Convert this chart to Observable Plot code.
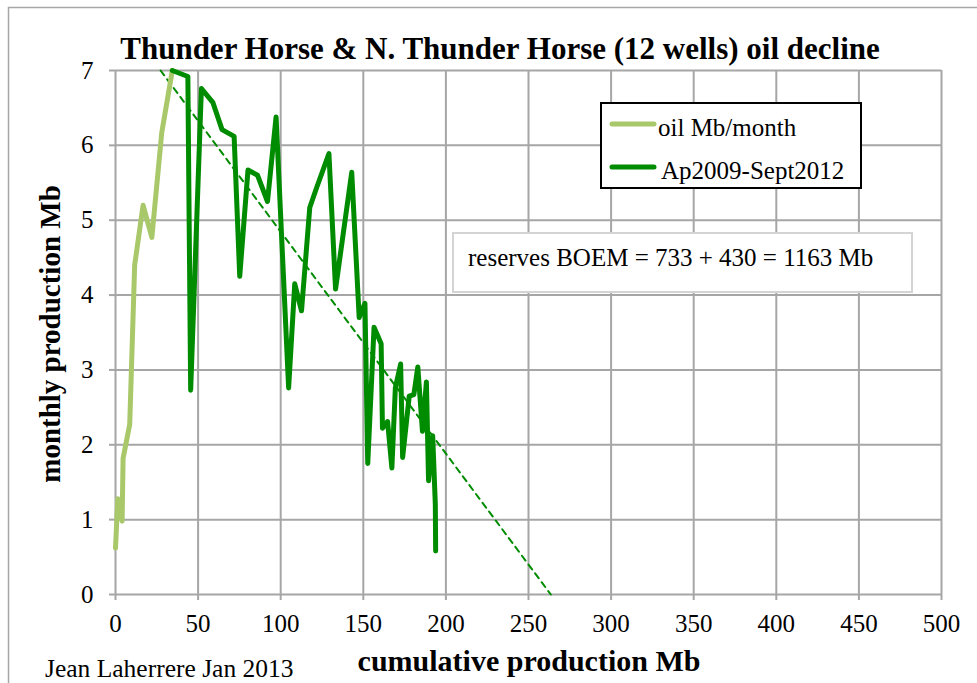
<!DOCTYPE html>
<html>
<head>
<meta charset="utf-8">
<script src="https://cdn.jsdelivr.net/npm/d3@7"></script>
<script src="https://cdn.jsdelivr.net/npm/@observablehq/plot@0.6"></script>
<style>
  body { margin: 0; background: #fff; }
  #wrap { position: relative; width: 977px; height: 683px; overflow: hidden; font-family: "Liberation Serif", "Times New Roman", serif; }
  #chart { position: absolute; left: 0; top: 0; }
  svg.overlay { position: absolute; left: 0; top: 0; pointer-events: none; }
</style>
</head>
<body>
<div id="wrap"><div id="chart"></div></div>
<script>
// ---- texts ----
const titleText = "Thunder Horse & N. Thunder Horse (12 wells) oil decline";
const xLabel = "cumulative production Mb";
const yLabel = "monthly production Mb";
const credit = "Jean Laherrere Jan 2013";
const annotation = "reserves BOEM = 733 + 430 = 1163 Mb";
const seriesNames = ["oil Mb/month", "Ap2009-Sept2012"];
const seriesColors = ["#a8c86a", "#008c00"];

// ---- ticks ----
const xTicks = [0, 50, 100, 150, 200, 250, 300, 350, 400, 450, 500];
const yTicks = [0, 1, 2, 3, 4, 5, 6, 7];

// ---- early production (light green) ----
const earlyCum  = [0, 1.4, 4.0, 4.6, 8.6, 11.6, 16.7, 22.0, 28.0, 34.4];
const earlyProd = [0.62, 1.28, 0.98, 1.82, 2.27, 4.40, 5.20, 4.77, 6.17, 7.00];

// ---- Ap2009-Sept2012 (dark green) ----
const lateCum  = [34.4, 43.8, 45.5, 52.0, 59.0, 64.5, 71.8, 75.2, 80.2, 86.0, 92.0, 97.2,
                  104.8, 108.5, 112.6, 117.6, 122.0, 129.2, 133.2, 143.0, 147.5, 151.0,
                  152.7, 156.5, 160.8, 161.6, 164.7, 167.3, 169.4, 172.6, 173.8, 177.8,
                  180.6, 183.0, 185.8, 188.2, 189.5, 192.0, 193.6, 193.8];
const lateProd = [7.00, 6.92, 2.73, 6.76, 6.57, 6.21, 6.12, 4.25, 5.67, 5.60, 5.25, 6.38,
                  2.76, 4.15, 3.79, 5.17, 5.45, 5.89, 4.08, 5.64, 3.70, 3.89,
                  1.75, 3.57, 3.35, 2.22, 2.31, 1.69, 2.76, 3.08, 1.83, 2.65,
                  2.67, 3.04, 2.18, 2.84, 1.52, 2.12, 1.20, 0.58];

// ---- decline trend (dashed) ----
const trendCum  = [27.3, 263.5];
const trendProd = [7, 0];

const early = earlyCum.map((c, i) => ({cum: c, prod: earlyProd[i]}));
const late  = lateCum.map((c, i) => ({cum: c, prod: lateProd[i]}));
const trend = trendCum.map((c, i) => ({cum: c, prod: trendProd[i]}));

const font = '"Liberation Serif", "Times New Roman", serif';
const gridStyle = {stroke: "#a6a6a6", strokeOpacity: 1, strokeWidth: 2};

const chart = Plot.plot({
  width: 977,
  height: 683,
  marginLeft: 115,
  marginRight: 36,
  marginTop: 70,
  marginBottom: 89,
  style: {fontFamily: font, background: "transparent", color: "black", overflow: "visible"},
  x: {domain: [0, 500]},
  y: {domain: [0, 7]},
  marks: [
    Plot.gridX(xTicks, gridStyle),
    Plot.gridY(yTicks, gridStyle),
    Plot.axisX(xTicks, {tickSize: 6, tickPadding: 14, stroke: "#a6a6a6", strokeWidth: 2, fill: "black", fontSize: 25, label: null, tickFormat: d => String(d)}),
    Plot.axisY(yTicks, {tickSize: 6, tickPadding: 16, stroke: "#a6a6a6", strokeWidth: 2, fill: "black", fontSize: 25, label: null, tickFormat: d => String(d)}),
    Plot.line(trend, {x: "cum", y: "prod", stroke: seriesColors[1], strokeWidth: 2, strokeDasharray: "6,5"}),
    Plot.line(early, {x: "cum", y: "prod", stroke: seriesColors[0], strokeWidth: 5, strokeLinejoin: "round", strokeLinecap: "round"}),
    Plot.line(late, {x: "cum", y: "prod", stroke: seriesColors[1], strokeWidth: 5, strokeLinejoin: "round", strokeLinecap: "round"})
  ]
});
document.getElementById("chart").appendChild(chart);

// ---- overlay: frame, titles, legend, annotation ----
const svg = d3.select("#wrap").append("svg")
  .attr("class", "overlay")
  .attr("width", 977).attr("height", 683)
  .style("font-family", font);

svg.append("rect").attr("x", 8.5).attr("y", 7.5).attr("width", 990).attr("height", 700)
  .attr("fill", "none").attr("stroke", "#a6a6a6").attr("stroke-width", 1.5);

svg.append("text").attr("x", 500).attr("y", 59).attr("text-anchor", "middle")
  .attr("font-size", 31).attr("font-weight", "bold").text(titleText);

svg.append("text").attr("transform", "translate(60,334) rotate(-90)").attr("text-anchor", "middle")
  .attr("font-size", 29).attr("font-weight", "bold").text(yLabel);

svg.append("text").attr("x", 529).attr("y", 671).attr("text-anchor", "middle")
  .attr("font-size", 30).attr("font-weight", "bold").text(xLabel);

svg.append("text").attr("x", 45).attr("y", 677)
  .attr("font-size", 25.5).text(credit);

// legend
svg.append("rect").attr("x", 601).attr("y", 103).attr("width", 260).attr("height", 85)
  .attr("fill", "white").attr("stroke", "black").attr("stroke-width", 2);
const legY = [124, 167];
seriesNames.forEach((name, i) => {
  svg.append("line").attr("x1", 612).attr("x2", 654).attr("y1", legY[i]).attr("y2", legY[i])
    .attr("stroke", seriesColors[i]).attr("stroke-width", 5).attr("stroke-linecap", "round");
  svg.append("text").attr("x", i === 0 ? 658 : 661).attr("y", legY[i] + 12)
    .attr("font-size", 25).text(name);
});

// annotation box
svg.append("rect").attr("x", 453).attr("y", 233).attr("width", 459).attr("height", 59)
  .attr("fill", "white").attr("stroke", "#d4d4d4").attr("stroke-width", 2);
svg.append("text").attr("x", 468).attr("y", 266).attr("font-size", 25).text(annotation);
</script>
</body>
</html>
